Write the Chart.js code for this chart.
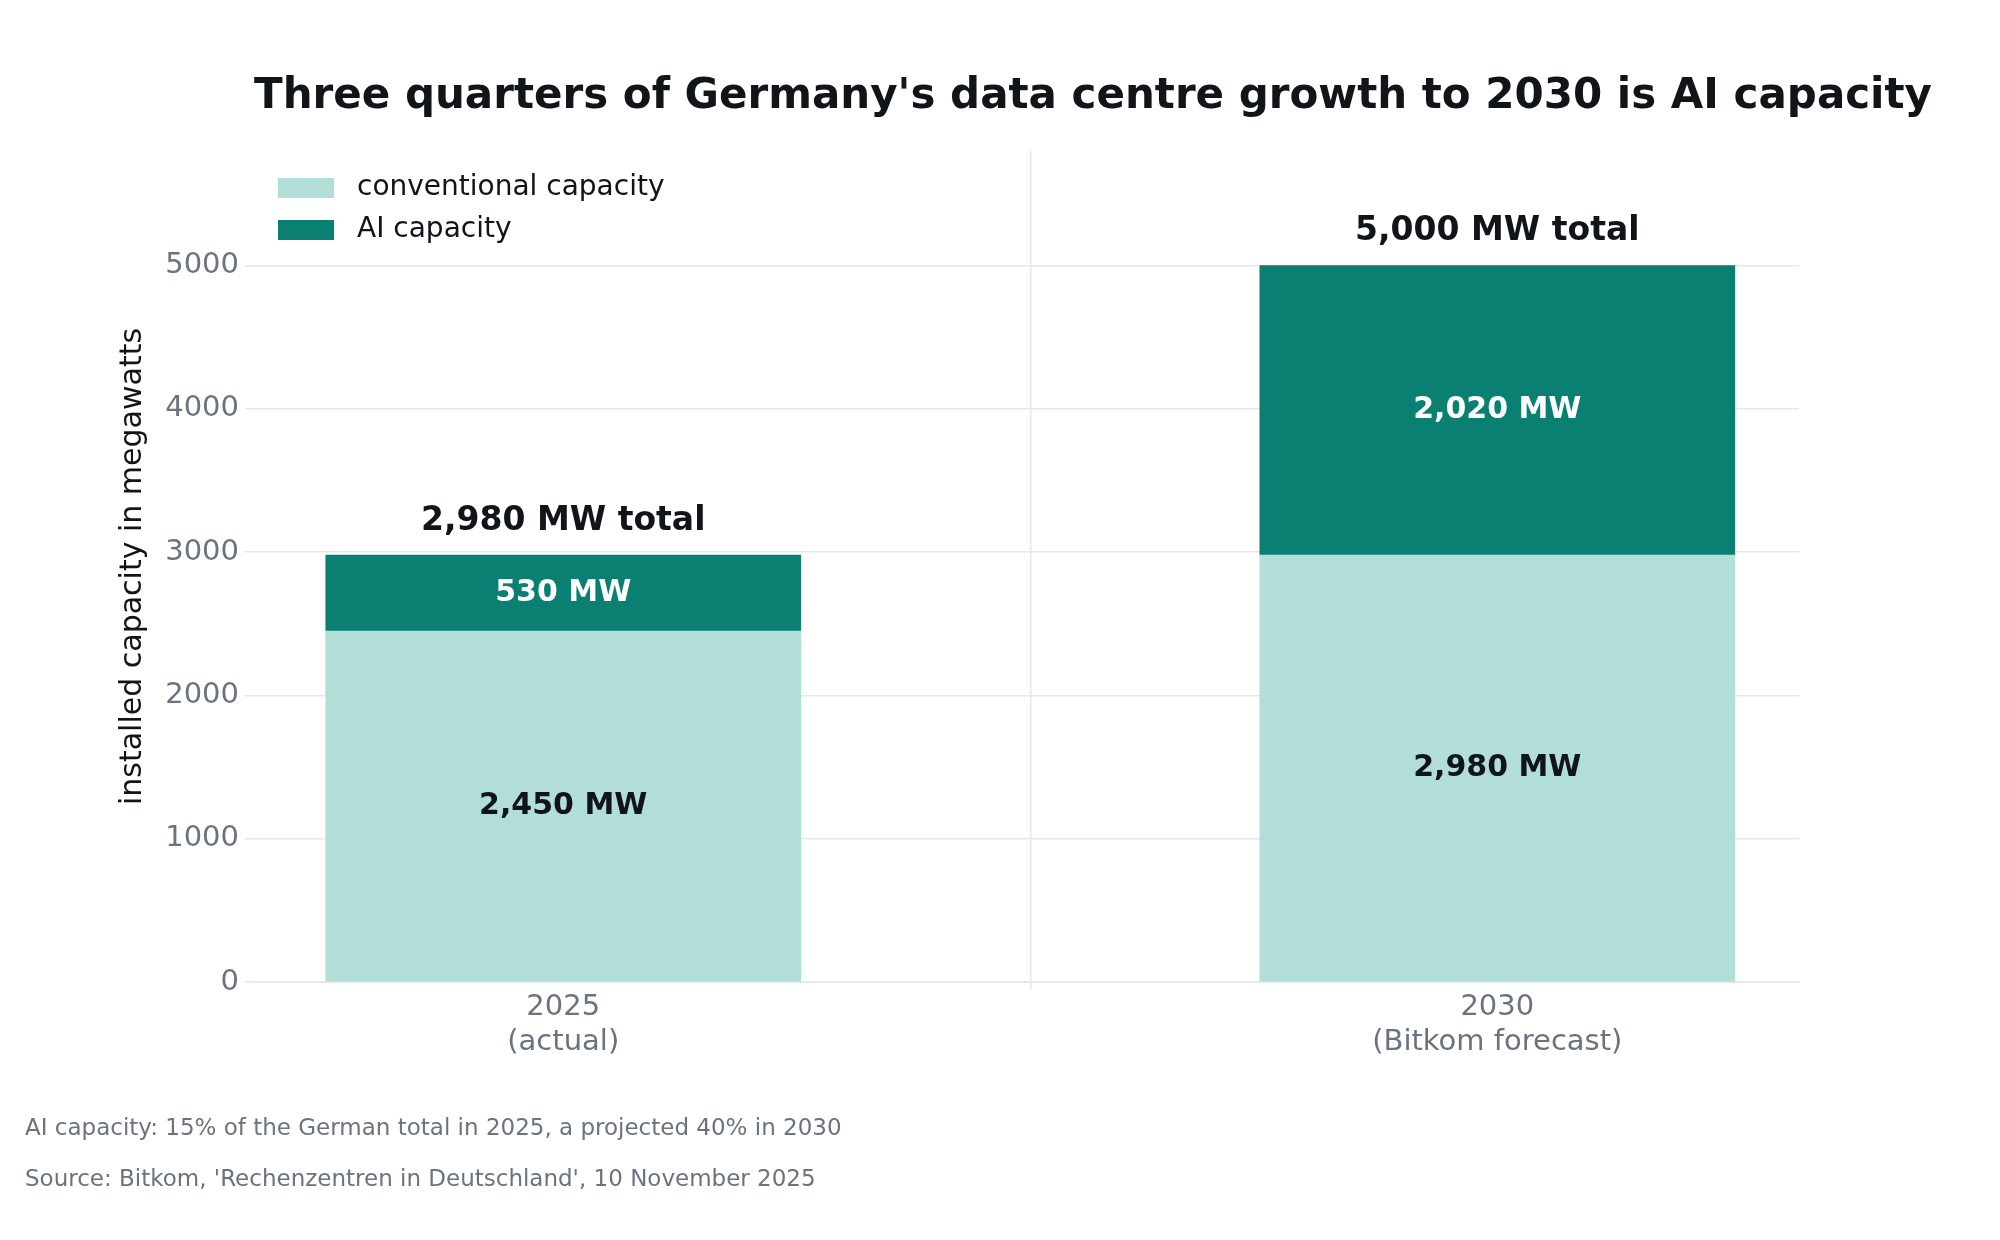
<!DOCTYPE html>
<html>
<head>
<meta charset="utf-8">
<script src="https://cdn.jsdelivr.net/npm/chart.js@4/dist/chart.umd.min.js"></script>
<style>
    body { margin: 0; background: #fff; }
    canvas { display: block; }
</style>
</head>
<body>
<canvas id="chart" width="2000" height="1240"></canvas>
<script>
const categories = [["2025", "(actual)"], ["2030", "(Bitkom forecast)"]];
const conventional = [2450, 2980];
const aiCapacity = [530, 2020];
const totals = [2980, 5000];
const seriesNames = ["conventional capacity", "AI capacity"];
const yTicks = [0, 1000, 2000, 3000, 4000, 5000];
const titleText = "Three quarters of Germany's data centre growth to 2030 is AI capacity";
const yTitle = "installed capacity in megawatts";
const notes = [
    "AI capacity: 15% of the German total in 2025, a projected 40% in 2030",
    "Source: Bitkom, 'Rechenzentren in Deutschland', 10 November 2025"
];

const lightColor = "#b2ded8";
const darkColor = "#0a8072";
const font = "'DejaVu Sans', sans-serif";

function fmt(v)
{
    return v.toLocaleString("en-US");
}

const overlay = {
    id: "overlay",
    afterDatasetsDraw(chart) {
        const c = chart.ctx;
        const x = chart.scales.x;
        const y = chart.scales.y;
        c.save();
        c.textAlign = "center";
        c.textBaseline = "middle";

        // values inside the bars
        c.font = "bold 30px " + font;
        for (let i = 0; i < categories.length; i++)
        {
            const cx = x.getPixelForValue(i);
            c.fillStyle = "#111418";
            c.fillText(fmt(conventional[i]) + " MW", cx, y.getPixelForValue(conventional[i] / 2));
            c.fillStyle = "#ffffff";
            c.fillText(fmt(aiCapacity[i]) + " MW", cx, y.getPixelForValue(conventional[i] + aiCapacity[i] / 2));
        }

        // totals above
        c.font = "bold 33px " + font;
        c.fillStyle = "#111418";
        for (let i = 0; i < categories.length; i++)
        {
            c.fillText(fmt(totals[i]) + " MW total", x.getPixelForValue(i), y.getPixelForValue(totals[i]) - 34);
        }

        // title
        c.font = "bold 42px " + font;
        c.fillText(titleText, 1093, 97);

        // y axis title
        c.save();
        c.translate(133, (chart.chartArea.top + chart.chartArea.bottom) / 2 + 0);
        c.rotate(-Math.PI / 2);
        c.font = "30px " + font;
        c.fillText(yTitle, 0, 0);
        c.restore();

        // legend
        c.textAlign = "left";
        c.font = "28px " + font;
        const colors = [lightColor, darkColor];
        for (let i = 0; i < seriesNames.length; i++)
        {
            const ly = 188 + i * 42;
            c.fillStyle = colors[i];
            c.fillRect(278, ly - 10, 56, 20);
            c.fillStyle = "#111418";
            c.fillText(seriesNames[i], 357, ly);
        }

        // footnotes
        c.font = "23px " + font;
        c.fillStyle = "#6b7280";
        c.fillText(notes[0], 25, 1129);
        c.fillText(notes[1], 25, 1180);
        c.restore();
    }
};

new Chart(document.getElementById("chart"), {
    type: "bar",
    data: {
        datasets: [
            { label: seriesNames[0], data: conventional.map((v, i) => ({ x: i, y: v })), backgroundColor: lightColor },
            { label: seriesNames[1], data: aiCapacity.map((v, i) => ({ x: i, y: v })), backgroundColor: darkColor }
        ]
    },
    options: {
        responsive: false,
        animation: false,
        layout: { padding: { top: 151, right: 201, left: 0, bottom: 0 } },
        plugins: {
            legend: { display: false },
            tooltip: { enabled: false }
        },
        datasets: { bar: { barThickness: 475 } },
        scales: {
            x: {
                type: "linear",
                stacked: true,
                offset: false,
                min: -0.33,
                max: 1.323,
                afterBuildTicks(s) { s.ticks = [{ value: 0 }, { value: 1 }]; },
                grid: { color: "#e5e7eb", lineWidth: 1.5, tickLength: 8 },
                border: { color: "#e5e7eb" },
                ticks: {
                    color: "#6b7280",
                    font: { family: font, size: 29 },
                    padding: 0,
                    callback: v => categories[v]
                },
                afterFit(s) { s.height = 258; }
            },
            y: {
                stacked: true,
                min: 0,
                max: 5800,
                afterBuildTicks(s) { s.ticks = yTicks.map(v => ({ value: v })); },
                grid: { color: "#e5e7eb", lineWidth: 1.5, tickLength: 10 },
                border: { display: false },
                ticks: {
                    color: "#6b7280",
                    font: { family: font, size: 29 },
                    padding: 6,
                    callback: v => String(v)
                },
                afterFit(s) { s.width = 255; }
            }
        }
    },
    plugins: [overlay]
});
</script>
</body>
</html>
